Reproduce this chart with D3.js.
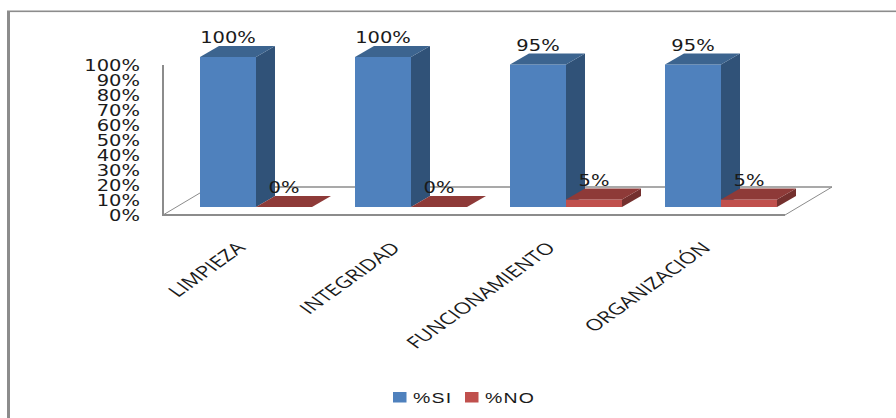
<!DOCTYPE html>
<html>
<head>
<meta charset="utf-8">
<script src="https://d3js.org/d3.v7.min.js"></script>
<style>
html,body{margin:0;padding:0;background:#fff;}
svg{display:block;}
text{fill:#1a1a1a;}
</style>
</head>
<body>
<script>
// Chart data
const categories = ["LIMPIEZA", "INTEGRIDAD", "FUNCIONAMIENTO", "ORGANIZACIÓN"];
const seriesNames = ["%SI", "%NO"];
const valuesSi = [1, 1, 0.95, 0.95];
const valuesNo = [0, 0, 0.05, 0.05];
const yTicks = [0, 0.1, 0.2, 0.3, 0.4, 0.5, 0.6, 0.7, 0.8, 0.9, 1];

const W = 896, H = 418;
const svg = d3.select("body").append("svg").attr("width", W).attr("height", H);

// Scales
const x = d3.scaleBand().domain(categories).range([163, 783]);
const inner = d3.scaleBand().domain(seriesNames).range([0, 112]);
const y = d3.scaleLinear().domain([0, 1]).range([215, 65]);

// Oblique projection of the floor and of the bars standing on it
const floorDx = 47, floorDy = -28;
const barDx = 19, barDy = -11;
const barOffsetX = 37, barOffsetY = -8;

const grey = "#8c8c8c";
const fillsFront = {"%SI": "#4f81bd", "%NO": "#c0504d"};
const fillsTop = {"%SI": "#3c648f", "%NO": "#8e3a38"};
const fillsSide = {"%SI": "#305278", "%NO": "#74302e"};

// Outer frame: only the left and top edges are visible
svg.append("rect").attr("x", 7).attr("y", 11).attr("width", 3).attr("height", H - 11).attr("fill", grey);
svg.append("rect").attr("x", 7).attr("y", 10.5).attr("width", W - 7).attr("height", 1.6).attr("fill", grey);

// Floor and wall lines
const x0 = 163, x1 = 785, yBase = y(0);
const lines = [
  {p: [[x0 + floorDx, yBase + floorDy], [x1 + floorDx, yBase + floorDy]], w: 1.4},
  {p: [[x0, yBase], [x0 + floorDx, yBase + floorDy]], w: 1},
  {p: [[x1, yBase], [x1 + floorDx, yBase + floorDy]], w: 1},
  {p: [[x0, yBase], [x1, yBase]], w: 2},
  {p: [[x0, y(1)], [x0, yBase + 1]], w: 2}
];
svg.append("g").selectAll("path").data(lines).join("path")
  .attr("d", d => d3.line()(d.p))
  .attr("stroke", grey).attr("fill", "none").attr("stroke-width", d => d.w);

// Value axis, stretched horizontally
const stretch = 1.3;
const yAxis = svg.append("g").attr("transform", "translate(140,0)")
  .call(d3.axisLeft(y).tickValues(yTicks).tickFormat(d3.format(".0%")).tickSize(0));
yAxis.select(".domain").remove();
yAxis.selectAll("text")
  .attr("x", 0).attr("dy", "0.38em")
  .attr("transform", `scale(${stretch},1)`)
  .style("font-family", "'DejaVu Sans'").style("font-size", "15px").style("fill", "#1a1a1a");

// Bars
const rows = [];
categories.forEach((c, i) => {
  rows.push({c, s: "%SI", v: valuesSi[i]});
  rows.push({c, s: "%NO", v: valuesNo[i]});
});
const poly = pts => "M" + pts.map(p => p.join(",")).join("L") + "Z";
const bars = svg.append("g").selectAll("g").data(rows).join("g");
bars.each(function (d) {
  const g = d3.select(this);
  const l = x(d.c) + barOffsetX + inner(d.s);
  const r = l + inner.bandwidth();
  const b = y(0) + barOffsetY;
  const t = y(d.v) + barOffsetY;
  g.append("path").attr("d", poly([[r, b], [r + barDx, b + barDy], [r + barDx, t + barDy], [r, t]])).attr("fill", fillsSide[d.s]);
  g.append("path").attr("d", poly([[l, b], [r, b], [r, t], [l, t]])).attr("fill", fillsFront[d.s]);
  g.append("path").attr("d", poly([[l, t], [r, t], [r + barDx, t + barDy], [l + barDx, t + barDy]])).attr("fill", fillsTop[d.s]);
  // Value label above the bar
  g.append("text")
    .attr("transform", `translate(${(l + r) / 2},${t - 14}) scale(${stretch},1)`)
    .attr("text-anchor", "middle")
    .style("font-family", "'DejaVu Sans'").style("font-size", "15px")
    .text(d3.format(".0%")(d.v));
});

// Category labels, slanted and widened
svg.append("g").selectAll("text").data(categories).join("text")
  .attr("transform", d => `translate(${x(d) + x.bandwidth() / 2 - 5},241) scale(1.4,1) rotate(-45)`)
  .attr("text-anchor", "end")
  .attr("dy", "0.7em")
  .style("font-family", "'Open Sans'").style("font-size", "16px")
  .text(d => d);

// Legend
const legendX = [393, 465];
const legend = svg.append("g").selectAll("g").data(seriesNames).join("g")
  .attr("transform", (d, i) => `translate(${legendX[i]},392)`);
legend.append("rect").attr("width", 13.5).attr("height", 10.5).attr("fill", d => fillsFront[d]);
legend.append("text")
  .attr("transform", `translate(20,11) scale(1.3,1)`)
  .style("font-family", "'Liberation Sans'").style("font-size", "15px").style("letter-spacing", "0.9px")
  .text(d => d);
</script>
</body>
</html>
